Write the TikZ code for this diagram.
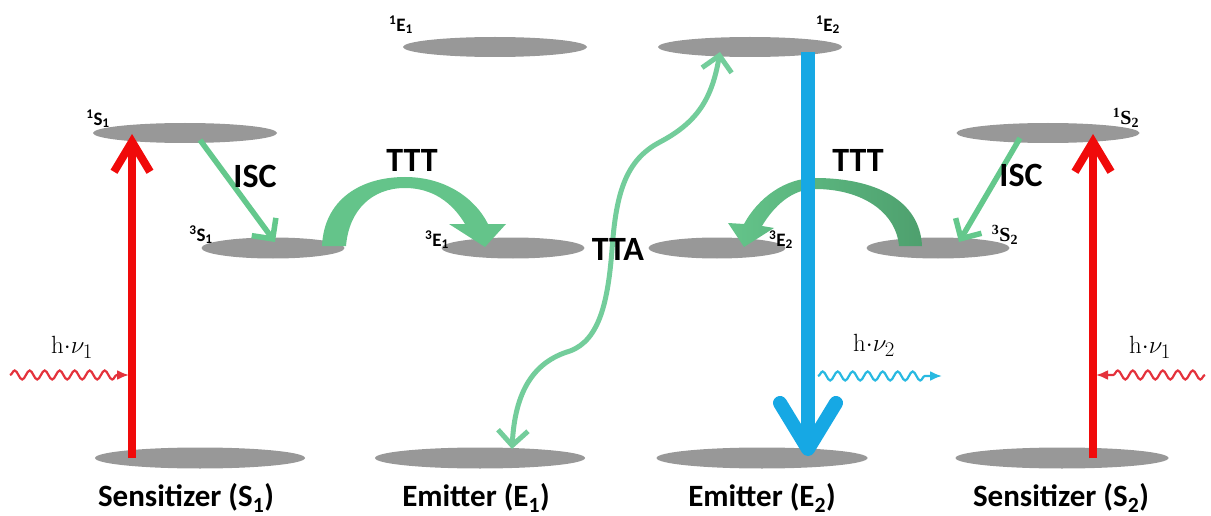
\documentclass[tikz,border=0pt]{standalone}
\usepackage[no-math]{fontspec}
\setmainfont{Carlito}
\newfontfamily\serifbf{Liberation Serif}
\usetikzlibrary{shapes.geometric,arrows.meta,decorations.pathmorphing}
\definecolor{lvl}{RGB}{152,152,152}
\definecolor{exred}{RGB}{240,10,10}
\definecolor{wavered}{RGB}{228,50,60}
\definecolor{emblue}{RGB}{22,168,228}
\definecolor{wavecyan}{RGB}{40,185,225}
\definecolor{iscgreen}{RGB}{100,200,140}
\definecolor{ttagreen}{RGB}{115,205,155}
\definecolor{tttlight}{RGB}{100,196,138}
\definecolor{tttdark}{RGB}{78,160,110}
\begin{document}
\begin{tikzpicture}[x=1pt,y=-1pt,
  level/.style={ellipse, fill=lvl, draw=none, inner sep=0pt, minimum height=21pt},
  lbl/.style={font=\fontsize{19}{22}\selectfont\bfseries, inner sep=0pt},
  lbls/.style={font=\fontsize{20}{22}\selectfont\serifbf\bfseries, inner sep=0pt},
  big/.style={font=\fontsize{31}{36}\selectfont\bfseries, inner sep=0pt},
  proc/.style={font=\fontsize{34}{40}\selectfont\bfseries, inner sep=0pt},
  photon/.style={font=\fontsize{29}{32}\selectfont, inner sep=0pt, text=black},
  excite/.style={draw=exred, line width=8pt, -{Straight Barb[length=30pt,width=36pt,line width=8pt]}},
  emit/.style={draw=emblue, line width=14pt, -{Straight Barb[length=46pt,width=56pt,round,line width=14pt]}},
  isc/.style={draw=iscgreen, line width=5.5pt, -{Straight Barb[length=15pt,width=30pt,line width=5.5pt]}},
  tta/.style={draw=ttagreen, line width=5pt, {Straight Barb[length=15pt,width=30pt,line width=5pt]}-{Straight Barb[length=15pt,width=30pt,line width=5pt]}},
  wave/.style={draw=#1, line width=2.2pt, decorate,
    decoration={snake, amplitude=4.5pt, segment length=15pt, post length=12pt},
    -{Latex[length=12pt,width=10pt]}}
]
\useasboundingbox (0,0) rectangle (1211,516);

% energy levels
\node[level, minimum width=210pt] (gS1) at (200,458) {};
\node[level, minimum width=210pt] (gE1) at (480,458) {};
\node[level, minimum width=211pt] (gE2) at (762,458) {};
\node[level, minimum width=213pt] (gS2) at (1062,458) {};
\node[level, minimum width=184pt, minimum height=20pt] (sS1) at (185,133) {};
\node[level, minimum width=143pt] (tS1) at (273,248) {};
\node[level, minimum width=143pt] (tE1) at (513,248) {};
\node[level, minimum width=184pt, minimum height=20pt] (sE1) at (495,47) {};
\node[level, minimum width=184pt, minimum height=20pt] (sE2) at (750,47) {};
\node[level, minimum width=137pt] (tE2) at (717,248) {};
\node[level, minimum width=143pt] (tS2) at (938,248) {};
\node[level, minimum width=183pt, minimum height=20pt] (sS2) at (1048,133) {};

% level labels
\node[lbl] (lsS1) at (98,119) {\textsuperscript{1}S\textsubscript{1}};
\node[lbl] (ltS1) at (201,235) {\textsuperscript{3}S\textsubscript{1}};
\node[lbl] (ltE1) at (437,240) {\textsuperscript{3}E\textsubscript{1}};
\node[lbl] (lsE1) at (401,25) {\textsuperscript{1}E\textsubscript{1}};
\node[lbl] (lsE2) at (828,25) {\textsuperscript{1}E\textsubscript{2}};
\node[lbl] (ltE2) at (781,240) {\textsuperscript{3}E\textsubscript{2}};
\node[lbls] (ltS2) at (1005,235) {\textsuperscript{3}S\textsubscript{2}};
\node[lbls] (lsS2) at (1126,118) {\textsuperscript{1}S\textsubscript{2}};

% bottom labels
\node[big] (nS1) at (186,498) {Sensitizer (S\textsubscript{1})};
\node[big] (nE1) at (476,498) {Emitter (E\textsubscript{1})};
\node[big] (nE2) at (762,498) {Emitter (E\textsubscript{2})};
\node[big] (nS2) at (1061,498) {Sensitizer (S\textsubscript{2})};

% TTT curved arrows
\fill[tttlight] (322,246) .. controls (324,200) and (360,177) .. (405,177)
   .. controls (445,177) and (475,198) .. (488,224) -- (506,224) -- (485,247) -- (449,224) -- (465,224)
   .. controls (452,202) and (432,188) .. (405,188)
   .. controls (372,188) and (349,210) .. (346,246) -- cycle;
\shade[left color=tttlight, right color=tttdark] (922,246) .. controls (920,200) and (875,178) .. (815,178)
   .. controls (785,178) and (758,198) .. (744,224) -- (728,223) -- (744,247) -- (774,228) -- (762,226)
   .. controls (774,206) and (792,189) .. (815,189)
   .. controls (862,189) and (896,212) .. (899,246) -- cycle;

% coordinates for connectors
\coordinate (rL0) at (132,458);
\coordinate (rL1) at (132,134);
\coordinate (rR0) at (1093,458);
\coordinate (rR1) at (1093,134);
\coordinate (b0) at (808,52);
\coordinate (b1) at (808,456);
\coordinate (iL0) at (200,140);
\coordinate (iL1) at (275,242);
\coordinate (iR0) at (1020,138);
\coordinate (iR1) at (959,242);
\coordinate (t0) at (512,449);
\coordinate (t1) at (720,52);
\coordinate (wL0) at (10,375);
\coordinate (wL1) at (129,375);
\coordinate (wR0) at (1205,375);
\coordinate (wR1) at (1096,375);
\coordinate (wC0) at (818,376);
\coordinate (wC1) at (942,376);

% excitation
\draw[excite] (rL0) -- (rL1);
\draw[excite] (rR0) -- (rR1);
% ISC
\draw[isc] (iL0) -- (iL1);
\draw[isc] (iR0) -- (iR1);
% TTA
\draw[tta] (t0) .. controls (515,392) and (533,362) .. (570,351)
   .. controls (600,340) and (608,300) .. (612,250)
   .. controls (616,192) and (626,160) .. (660,142)
   .. controls (698,122) and (712,98) .. (t1);
% emission
\draw[emit] (b0) -- (b1);
% photons
\draw[wave=wavered] (wL0) -- (wL1);
\draw[wave=wavered] (wR0) -- (wR1);
\draw[wave=wavecyan] (wC0) -- (wC1);

% process labels
\node[proc] (isc1) at (255,176) {ISC};
\node[proc] (isc2) at (1021,175) {ISC};
\node[proc] (ttt1) at (412,160) {TTT};
\node[proc] (ttt2) at (858,160) {TTT};
\node[proc] (ttaL) at (618,249) {TTA};

% photon labels
\node[photon] (hv1) at (72,347) {$\mathrm{h}{\cdot}\nu_{1}$};
\node[photon] (hv2) at (874,345) {$\mathrm{h}{\cdot}\nu_{2}$};
\node[photon] (hv3) at (1150,347) {$\mathrm{h}{\cdot}\nu_{1}$};
\end{tikzpicture}
\end{document}
